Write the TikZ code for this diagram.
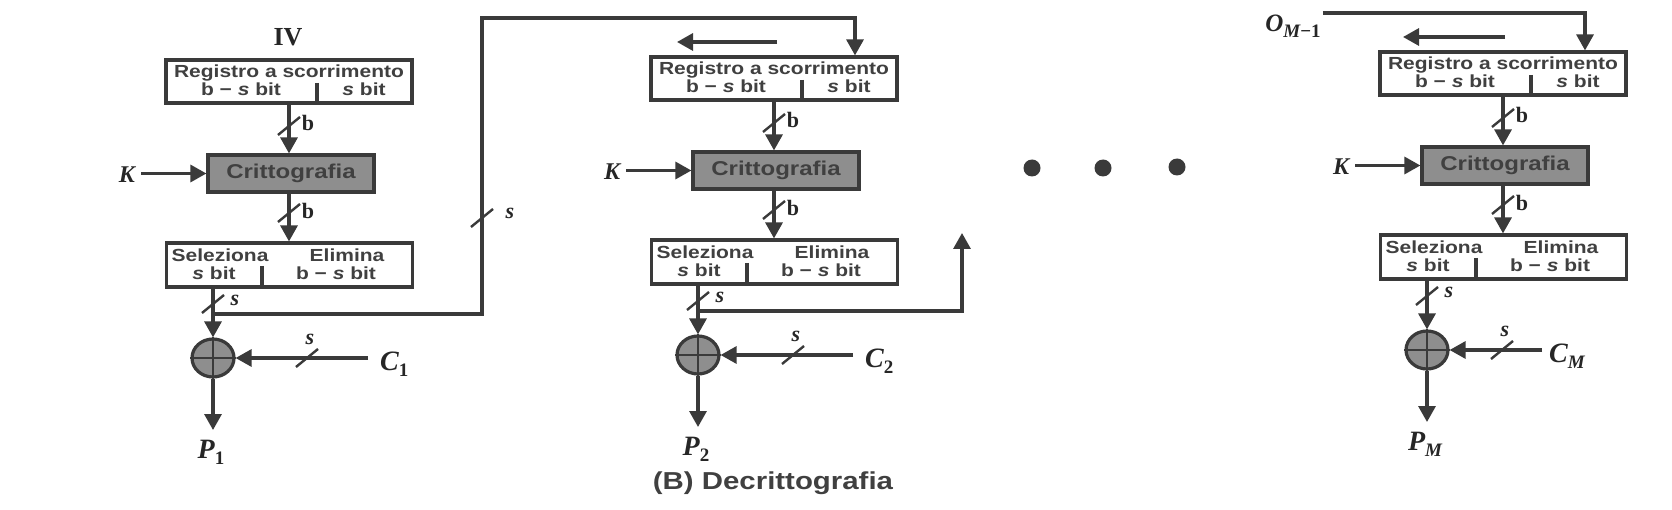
\documentclass[tikz,border=0pt]{standalone}
\usepackage{fontspec}
\setmainfont{Liberation Serif}
\newfontfamily\sfw{Liberation Sans}[FakeStretch=1.2]
\newfontfamily\srf{Liberation Serif}
\usetikzlibrary{arrows.meta,shapes.geometric}
\definecolor{ln}{HTML}{3A3A3A}
\definecolor{tx}{HTML}{404040}
\definecolor{gfill}{HTML}{8E8E8E}
\definecolor{lb}{HTML}{262626}
\tikzset{
 lin/.style={draw=ln, line width=3.2pt, line join=miter},
 arr/.style={lin, -{Triangle[length=16pt,width=17pt]}},
 boxr/.style={draw=ln, line width=3.2pt, minimum width=246pt, minimum height=43pt, inner sep=0pt, fill=white},
 cryb/.style={draw=ln, line width=3.2pt, fill=gfill, minimum width=166pt, minimum height=37pt, inner sep=0pt, font=\sfw\bfseries\fontsize{20}{20}\selectfont, text=tx},
 btxt/.style={font=\sfw\bfseries\fontsize{17.5}{17.5}\selectfont, text=tx, inner sep=0pt, anchor=base},
 xorn/.style={ellipse, draw=ln, line width=3.2pt, fill=gfill, minimum width=42pt, minimum height=38pt, inner sep=0pt},
 lbl/.style={font=\srf\bfseries\itshape\fontsize{28}{28}\selectfont, text=lb, inner sep=2pt},
 klbl/.style={font=\srf\bfseries\itshape\fontsize{24}{24}\selectfont, text=lb, inner sep=2pt},
 blbl/.style={font=\srf\bfseries\fontsize{22}{22}\selectfont, text=lb, inner sep=0pt},
 slbl/.style={font=\srf\bfseries\itshape\fontsize{22}{22}\selectfont, text=lb, inner sep=0pt},
 dotn/.style={circle, fill=ln, minimum size=17pt, inner sep=0pt},
 capt/.style={font=\sfw\bfseries\fontsize{24.5}{24.5}\selectfont, text=tx, inner sep=0pt},
}
\newcommand\lsub[1]{\raisebox{-6pt}{\fontsize{19}{19}\selectfont #1}}
\newcommand\tick[1]{\draw[ln, line width=2.4pt] ([shift={(-11,9)}]#1) -- ([shift={(11,-9)}]#1);}
\newcommand\mypanel[8]{%
\begin{scope}[shift={(#2,#3)}]
 \node[boxr] (reg#1) at (289,81.5) {};
 \node[btxt] (rega#1) at (289,78) {Registro a scorrimento};
 \node[btxt] (regb#1) at (241,96) {b − \textit{s} bit};
 \node[btxt] (regc#1) at (364,96) {\textit{s} bit};
 \draw[lin] (317,83) -- (317,103);
 \node[cryb] (cry#1) at (291,173.5) {Crittografia};
 \node[boxr, minimum height=44pt] (sel#1) at (289.5,265) {};
 \node[btxt] (sela#1) at (220,262) {Seleziona};
 \node[btxt] (selb#1) at (347,262) {Elimina};
 \node[btxt] (selc#1) at (214,280) {\textit{s} bit};
 \node[btxt] (seld#1) at (336,280) {b − \textit{s} bit};
 \draw[lin] (262,266) -- (262,287);
 \node[klbl] (k#1) at (127,175) {K};
 \draw[arr, shorten <=4pt] (cry#1.west -| k#1.east) -- (cry#1.west);
 \draw[arr] (reg#1.south) -- (reg#1.south |- cry#1.north);
 \draw[arr] (reg#1.south |- cry#1.south) -- (reg#1.south |- sel#1.north);
 \coordinate (tb#1) at (289,126);
 \coordinate (tc#1) at (289,213);
 \tick{tb#1} \tick{tc#1}
 \node[blbl] (bl#1) at (308,123) {b};
 \node[blbl] (bm#1) at (308,211) {b};
 \node[xorn] (xor#1) at (213,358) {};
 \draw[ln, line width=2.2pt] (xor#1.north) -- (xor#1.south) (xor#1.west) -- (xor#1.east);
 \coordinate (j#1) at (213,314);
 \draw[arr] (sel#1.south -| xor#1) -- (xor#1.north);
 \coordinate (ts#1) at (213,304);
 \tick{ts#1}
 \node[slbl] (sa#1) at (235,300) {s};
 \node[lbl, anchor=west] (c#1) at (#8,364) {#5};
 \coordinate (cs#1) at (#4,358);
 \draw[arr] (cs#1) -- (xor#1.east);
 \coordinate (tx#1) at (#6,358);
 \tick{tx#1}
 \node[slbl] (sc#1) at ([shift={(3,-19)}]tx#1) {s};
 \coordinate (pe#1) at (213,430);
 \draw[arr] (xor#1.south) -- (pe#1);
 \node[lbl] (p#1) at (211,452) {#7};
\end{scope}}
\begin{document}
\begin{tikzpicture}[x=1pt,y=-1pt]
\fill[white] (0,0) rectangle (1672,510);
\useasboundingbox (0,0) rectangle (1672,510);
\mypanel{1}{0}{0}{368}{C\lsub{\upshape 1}}{307}{P\lsub{\upshape 1}}{378}
\mypanel{2}{485}{-3}{368}{C\lsub{\upshape 2}}{308}{P\lsub{\upshape 2}}{378}
\mypanel{3}{1214}{-8}{328}{C\lsub{M}}{288}{P\lsub{M}}{333}
% panel 1 extras
\node[font=\srf\bfseries\fontsize{26}{26}\selectfont, text=lb] (iv) at (288,37) {IV};
\coordinate (fb1) at (482,314);
\coordinate (in2) at (855,18);
\draw[arr] (j1) -- (fb1) |- (in2) -- (in2 |- reg2.north);
\coordinate (tf1) at (482,218);
\tick{tf1}
\node[slbl] (sf1) at (510,213) {s};
% panel 2 extras
\coordinate (la2s) at (777,42);
\coordinate (la2e) at (677,42);
\draw[arr] (la2s) -- (la2e);
\coordinate (out2) at (962,233);
\draw[arr] (j2) -| (out2);
% dots
\node[dotn] (d1) at (1032,168) {};
\node[dotn] (d2) at (1103,168) {};
\node[dotn] (d3) at (1177,167) {};
% panel 3 extras
\node[font=\srf\bfseries\itshape\fontsize{25}{25}\selectfont, text=lb, inner sep=2pt] (om) at (1293,26) {O\lsub{M\upshape −1}};
\coordinate (in3) at (1585,13);
\draw[arr] (om.east |- in3) -- (in3) -- (in3 |- reg3.north);
\coordinate (la3s) at (1505,37);
\coordinate (la3e) at (1403,37);
\draw[arr] (la3s) -- (la3e);
% caption
\node[capt] (cap) at (773,483) {(B) Decrittografia};
\end{tikzpicture}
\end{document}
